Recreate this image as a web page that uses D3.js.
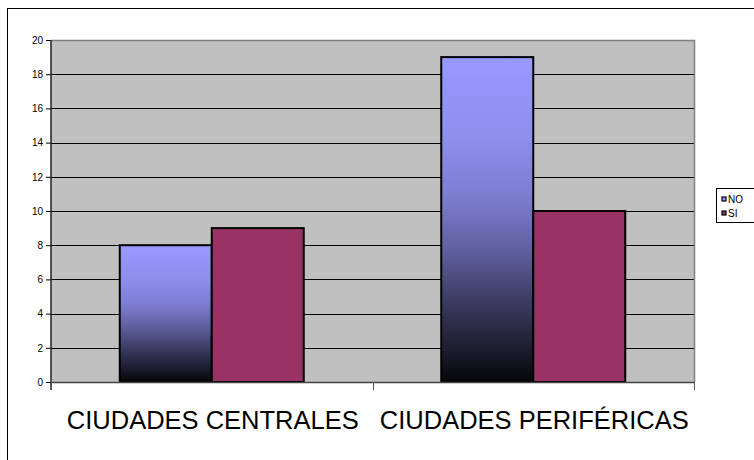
<!DOCTYPE html>
<html><head><meta charset="utf-8">
<script src="https://cdn.jsdelivr.net/npm/d3@7"></script>
<style>body{margin:0;background:#fff;} svg{display:block;font-family:"Liberation Sans",Arial,sans-serif;}</style>
</head><body>
<script>
const categories = ["CIUDADES CENTRALES", "CIUDADES PERIFÉRICAS"];
const seriesNames = ["NO", "SI"];
const valuesNO = [8, 19];
const valuesSI = [9, 10];
const yTicks = [0, 2, 4, 6, 8, 10, 12, 14, 16, 18, 20];

(function () {
const W = 754, H = 460;
const svg = d3.select("body").append("svg").attr("width", W).attr("height", H);

const defs = svg.append("defs");
const grad = defs.append("linearGradient").attr("id", "gNO")
  .attr("x1", 0).attr("y1", 0).attr("x2", 0).attr("y2", 1);
[[0, "#9999ff"], [0.25, "#8e8eee"], [0.45, "#7a7acc"], [0.6, "#5e5e9c"], [0.75, "#3c3c63"], [0.9, "#1c1c2e"], [1, "#050508"]]
  .forEach(([o, c]) => grad.append("stop").attr("offset", o).attr("stop-color", c));
const fills = { NO: "url(#gNO)", SI: "#993366" };
const swatch = { NO: "#9999ff", SI: "#993366" };

// outer frame
svg.append("rect").attr("x", 7.5).attr("y", 8.5).attr("width", 800).attr("height", 500)
  .attr("fill", "#fff").attr("stroke", "#000").attr("stroke-width", 1);

const pL = 51, pR = 694, pT = 40, pB = 382;
const y = d3.scaleLinear().domain([0, 20]).range([pB, pT]);
const x = d3.scaleBand().domain(categories).range([pL, pR]).paddingInner(0.4277).paddingOuter(0.21385);
const xs = d3.scaleBand().domain(seriesNames).range([0, x.bandwidth()]);

// plot background
svg.append("rect").attr("x", pL).attr("y", pT).attr("width", pR - pL).attr("height", pB - pT)
  .attr("fill", "#c0c0c0");

// gridlines
svg.append("g").selectAll("line").data(yTicks.filter(t => t > 0 && t < 20)).join("line")
  .attr("x1", pL).attr("x2", pR)
  .attr("y1", d => Math.round(y(d)) + 0.5).attr("y2", d => Math.round(y(d)) + 0.5)
  .attr("stroke", "#000").attr("stroke-width", 1);

// top/right plot border
svg.append("path").attr("d", `M${pL},${pT + 0.5}H${pR + 0.5}V${pB}`)
  .attr("fill", "none").attr("stroke", "#808080").attr("stroke-width", 1.5);

// bars
const data = [];
categories.forEach((c, i) => {
  data.push({ cat: c, s: "NO", v: valuesNO[i] });
  data.push({ cat: c, s: "SI", v: valuesSI[i] });
});
svg.append("g").selectAll("rect").data(data).join("rect")
  .attr("x", d => x(d.cat) + xs(d.s))
  .attr("y", d => y(d.v))
  .attr("width", xs.bandwidth())
  .attr("height", d => y(0) - y(d.v))
  .attr("fill", d => fills[d.s])
  .attr("stroke", "#000").attr("stroke-width", 2);

// y axis
const yAxis = d3.axisLeft(y).tickValues(yTicks).tickSize(5).tickPadding(3).tickFormat(d3.format("d"));
const ga = svg.append("g").attr("transform", `translate(${pL},0)`).call(yAxis);
ga.select(".domain").remove();
ga.selectAll(".tick line").attr("stroke", "#000");
ga.selectAll(".tick text").attr("font-size", 10).attr("fill", "#000")
  .attr("font-family", '"Liberation Sans", Arial, sans-serif');
svg.append("line").attr("x1", pL).attr("x2", pL).attr("y1", pT).attr("y2", pB + 8)
  .attr("stroke", "#222").attr("stroke-width", 1.5);

// x axis
svg.append("line").attr("x1", pL).attr("x2", pR).attr("y1", pB + 0.5).attr("y2", pB + 0.5)
  .attr("stroke", "#444").attr("stroke-width", 1.5);
const xTickPos = [pL, (x(categories[0]) + x.bandwidth() + x(categories[1])) / 2, pR];
svg.append("g").selectAll("line").data(xTickPos).join("line")
  .attr("x1", d => Math.round(d) + 0.5).attr("x2", d => Math.round(d) + 0.5)
  .attr("y1", pB).attr("y2", pB + 8)
  .attr("stroke", "#555").attr("stroke-width", 1);

svg.append("g").selectAll("text").data(categories).join("text")
  .attr("x", d => x(d) + x.bandwidth() / 2 + 1)
  .attr("y", 429)
  .attr("text-anchor", "middle")
  .attr("font-size", 25.5)
  .attr("fill", "#000")
  .text(d => d);

// legend
const lg = svg.append("g");
lg.append("rect").attr("x", 716.5).attr("y", 188.5).attr("width", 60).attr("height", 34)
  .attr("fill", "#fff").attr("stroke", "#000").attr("stroke-width", 1);
seriesNames.forEach((s, i) => {
  const yy = 197 + i * 14;
  lg.append("rect").attr("x", 722).attr("y", yy).attr("width", 4).attr("height", 4)
    .attr("fill", swatch[s]).attr("stroke", "#000").attr("stroke-width", 1.2);
  lg.append("text").attr("x", 728).attr("y", yy + 6).attr("font-size", 10).attr("fill", "#000").text(s);
});
})();
</script>
</body></html>
